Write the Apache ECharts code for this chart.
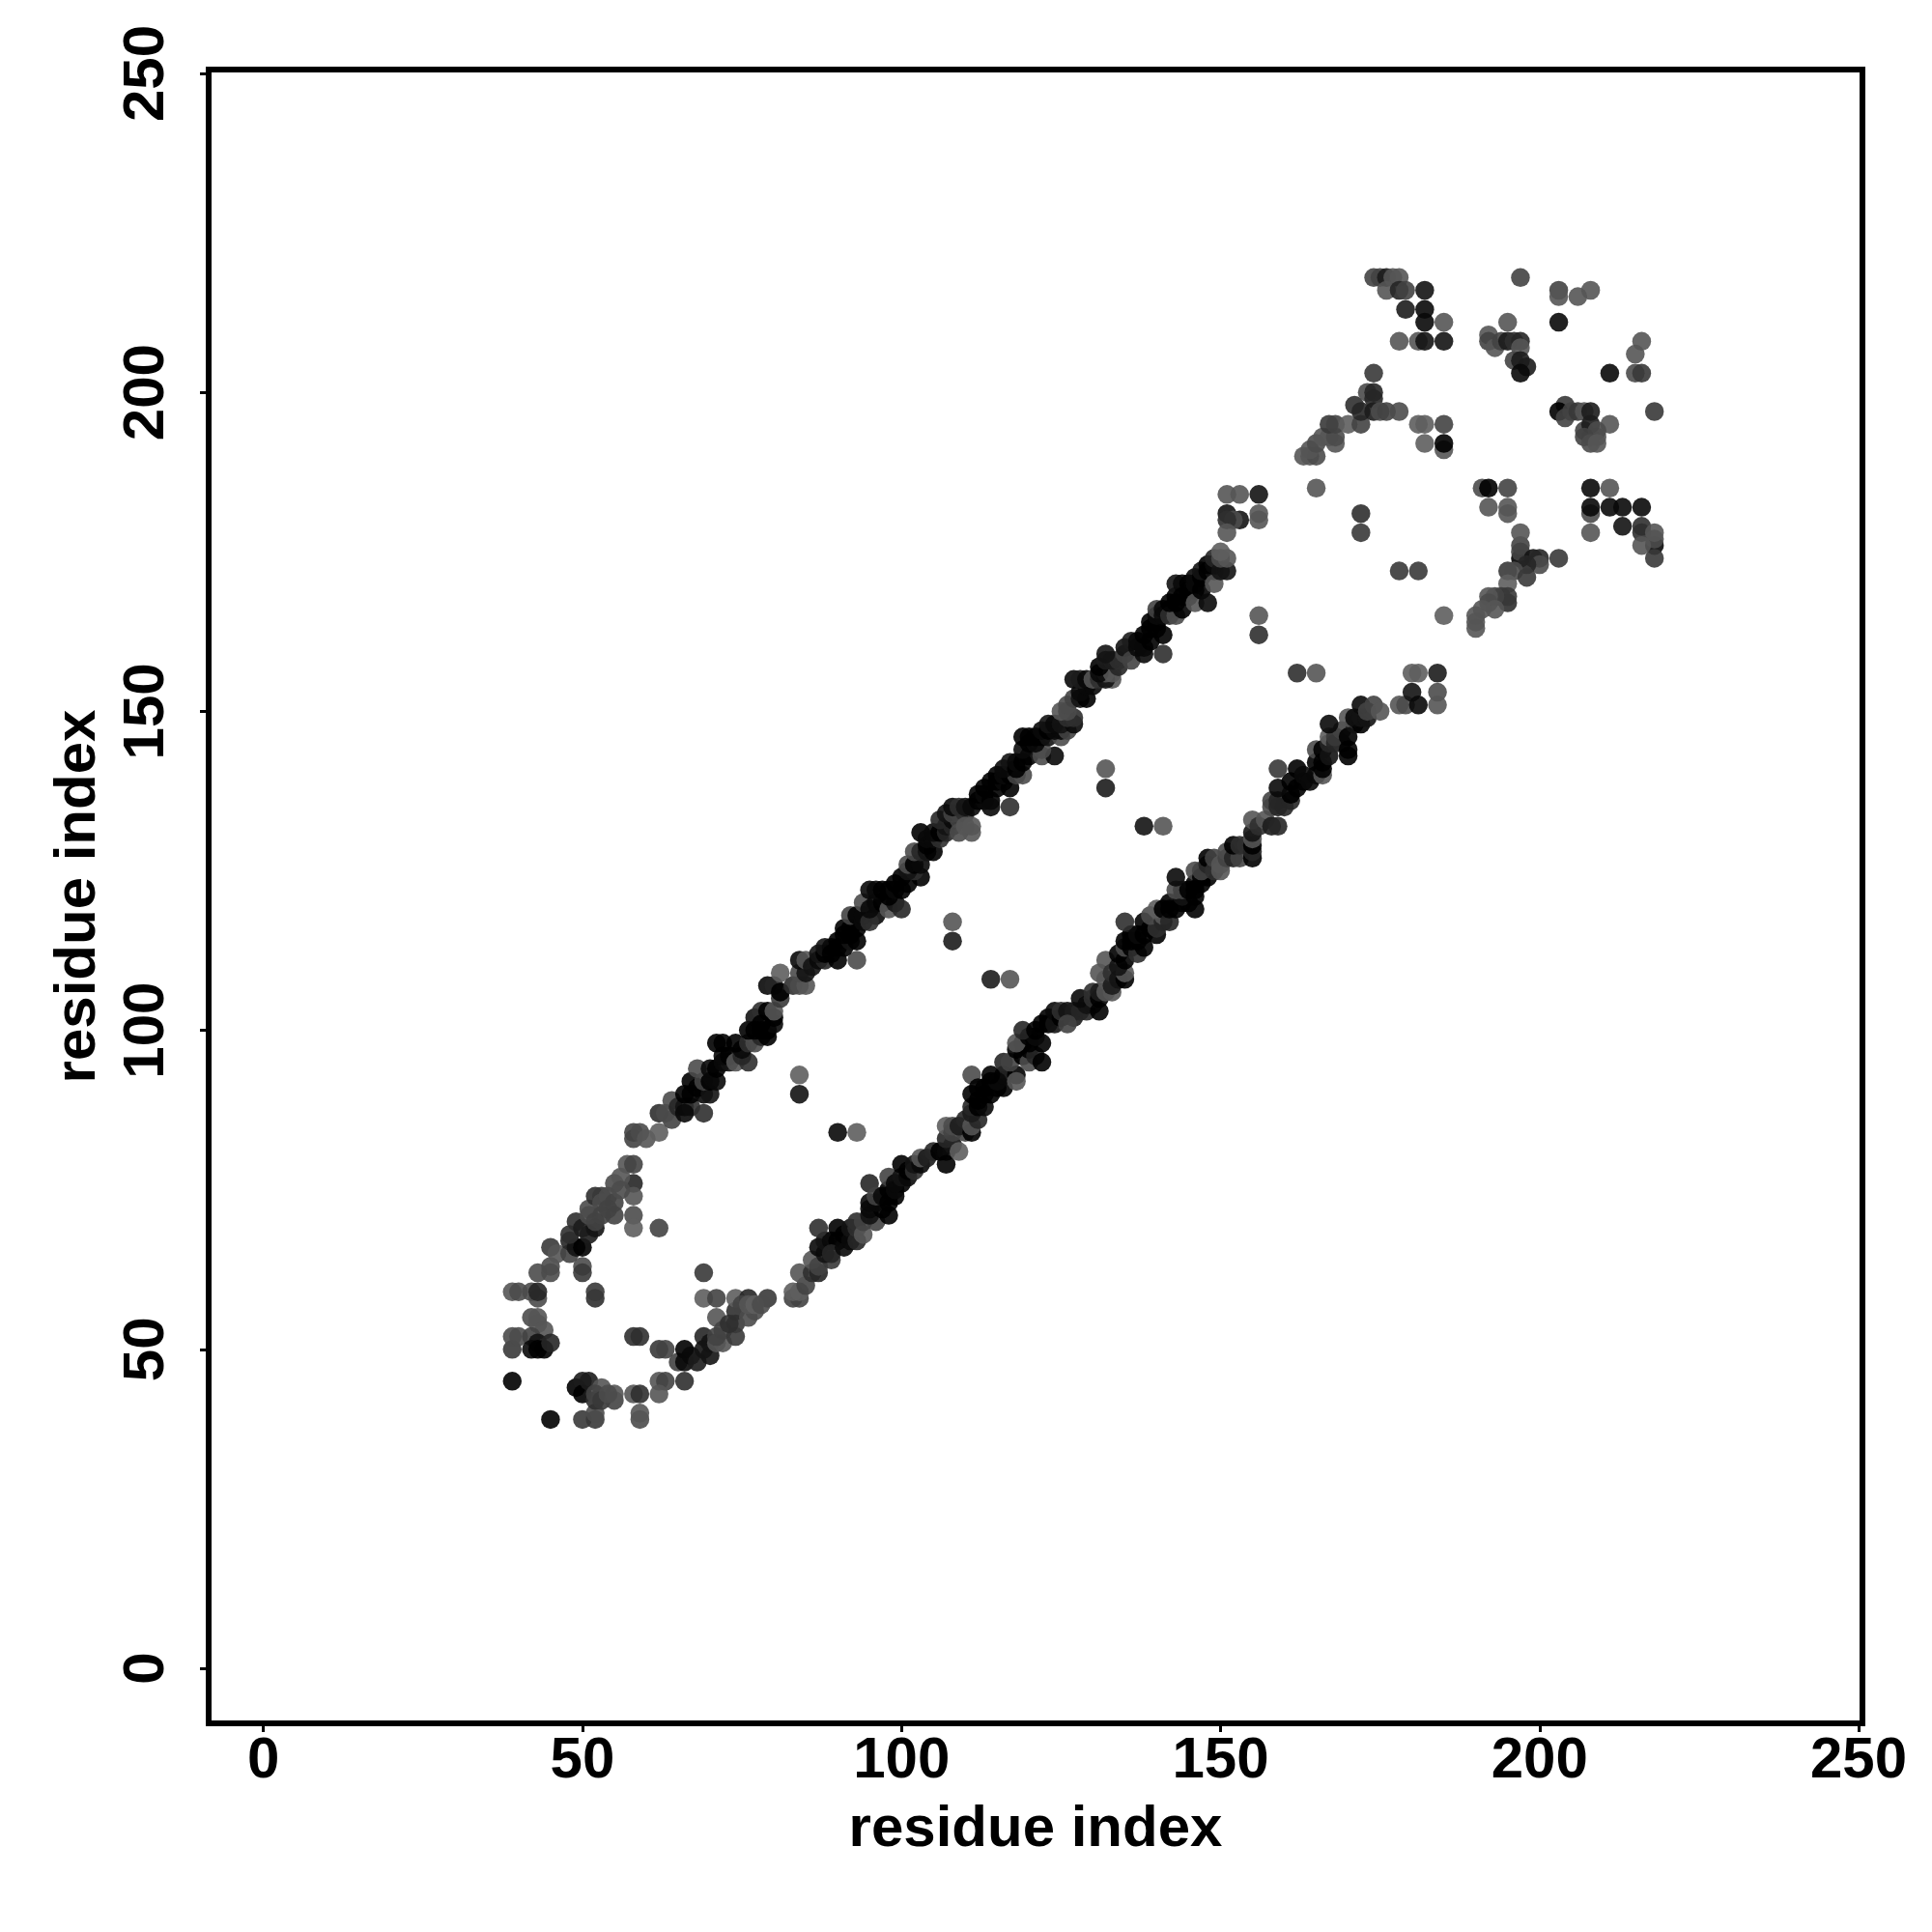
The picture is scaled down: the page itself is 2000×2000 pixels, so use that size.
<!DOCTYPE html>
<html><head><meta charset="utf-8">
<style>html,body{margin:0;padding:0;background:#fff}#c{width:2000px;height:2000px}</style>
<script src="https://cdn.jsdelivr.net/npm/echarts@6/dist/echarts.min.js"></script>
</head><body><div id="c"></div>
<script>
// each contact: [residue i, residue j, strength 0-10]
const tickValues = [0,50,100,150,200,250];
const axisTitle = "residue index";
const nTerminal = [[39,45,10],[45,39,10],[39,50,4],[39,52,2],[40,52,2],[39,59,1],[40,59,2],[42,59,2],[43,58,2],[43,59,6],[43,62,2],[42,55,2],[43,55,1],[43,54,1],[44,53,1],[42,52,3],[43,51,8],[42,50,9],[43,50,10],[44,50,10],[45,51,6],[50,63,2],[50,62,4],[52,58,5],[52,59,4],[58,52,5],[59,52,5],[62,50,4],[63,50,3],[58,43,1],[59,43,5],[59,39,2],[59,40,1],[49,44,10],[50,45,7],[50,43,10],[51,45,7],[50,39,4],[52,39,4],[52,40,2],[52,42,5],[53,44,1],[52,43,3],[53,42,4],[55,42,3],[55,43,1],[54,43,2],[58,76,6],[58,74,1],[58,71,2],[58,69,0],[62,69,3],[69,62,4],[69,58,0],[71,58,3]];
const upperBand = [[45,63,2],[45,62,2],[45,66,4],[46,65,1],[48,65,3],[48,67,6],[49,66,8],[50,66,10],[48,68,5],[49,70,5],[50,69,7],[51,68,7],[52,69,8],[51,71,2],[51,72,2],[52,70,3],[52,74,5],[53,74,4],[53,73,2],[54,74,2],[53,71,3],[55,71,3],[54,72,3],[55,73,3],[55,76,2],[56,77,1],[56,75,2],[57,79,1],[58,79,3],[58,83,3],[58,84,3],[59,84,2],[60,83,1],[62,84,0],[64,86,3],[62,87,5],[63,87,2],[64,89,2],[65,88,6],[66,88,8],[67,88,5],[66,87,9],[69,87,5],[66,90,10],[67,90,10],[69,90,9],[68,91,10],[70,90,8],[67,92,10],[69,92,3],[70,92,10],[71,92,9],[68,94,2],[70,94,9],[71,94,10],[72,95,9],[73,95,8],[72,96,9],[73,96,10],[71,98,10],[72,98,10],[74,95,1],[76,95,5],[75,96,6],[75,97,9],[74,98,10],[76,98,5],[77,98,2],[78,99,6],[79,99,10],[76,100,10],[78,100,10],[79,100,10],[80,101,9],[80,102,10],[77,102,8],[78,103,5],[79,103,10],[80,103,1],[78,101,10],[77,100,10],[81,105,4],[79,107,9],[80,107,6],[81,106,10],[81,109,0],[83,107,5],[84,107,2],[85,107,1],[84,109,2],[85,109,8],[84,111,9],[85,111,1],[86,110,8],[87,111,9],[88,111,6],[87,112,8],[88,112,10],[88,113,8],[89,113,9],[89,112,10],[90,111,10],[93,111,2],[90,113,10],[90,114,10],[91,113,10],[92,114,8],[93,114,10],[91,115,10],[92,115,10],[91,116,10],[92,116,10],[93,116,10],[92,118,3],[93,118,10],[94,117,9],[94,118,9],[96,118,9],[95,117,5],[94,120,2],[95,119,9],[96,120,9],[97,120,10],[98,119,1],[99,120,8],[100,119,6],[95,122,9],[96,122,9],[97,122,10],[98,121,10],[98,122,10],[99,122,9],[100,122,10],[99,123,10],[100,124,10],[101,123,10],[103,124,10],[102,125,5],[101,125,8],[101,126,2],[102,126,10],[103,126,9],[102,128,2],[103,128,6],[104,128,8],[105,128,10],[104,129,10],[103,131,10],[104,130,9],[105,130,9],[106,130,5],[105,131,9],[106,131,10],[107,131,6],[107,132,8],[108,132,6],[106,133,6],[108,133,9],[109,133,3],[107,134,8],[108,134,3],[109,134,3],[110,134,5],[108,135,9],[109,135,5],[109,131,2],[111,131,1],[110,132,1],[111,132,1],[110,135,8],[111,135,9],[112,136,10],[113,136,9],[112,137,10],[113,137,9],[113,138,10],[114,136,10],[114,135,9],[117,135,5],[115,138,10],[114,139,10],[115,139,10],[116,139,9],[117,138,10],[115,140,10],[116,140,9],[117,140,10],[118,140,3],[119,140,2],[116,141,9],[117,142,8],[118,141,10],[118,142,9],[119,142,10],[120,143,10],[122,143,2],[124,143,9],[119,144,9],[122,144,2],[120,145,10],[121,145,9],[119,146,10],[120,146,10],[121,146,10],[122,146,10],[123,146,8],[125,146,2],[122,147,9],[123,147,10],[124,147,9],[125,147,9],[126,147,3],[123,148,8],[124,148,9],[125,148,8],[127,148,9],[126,149,5],[127,149,5],[125,150,1],[126,150,2],[126,151,2],[127,152,3],[128,152,8],[129,152,10],[128,153,9],[129,154,9],[130,154,9],[127,155,9],[128,155,7],[129,155,9],[130,155,1],[131,155,5],[133,155,1],[132,155,8],[132,156,1],[131,156,9],[133,156,1],[131,157,10],[134,157,6],[132,158,7],[133,158,7],[134,158,5],[132,159,8],[135,159,3],[135,160,8],[136,158,3],[136,161,7],[137,160,9],[137,161,9],[138,159,9],[138,160,9],[141,159,5],[138,162,10],[139,161,10],[139,163,10],[140,163,10],[139,164,10],[140,164,10],[141,162,10],[140,165,9],[140,166,3],[141,166,9],[142,166,10],[141,165,9],[142,165,5],[143,165,2],[142,167,10],[143,167,10],[143,168,10],[145,168,9],[145,169,10],[146,169,9],[143,170,8],[144,170,9],[144,168,10],[144,166,10],[145,170,10],[146,170,9],[146,167,1],[146,171,9],[147,171,10],[147,172,8],[147,169,10],[148,167,9],[148,172,10],[149,172,8],[148,173,10],[149,173,9],[149,170,1],[149,174,6],[150,172,8],[151,172,8],[150,174,2],[151,174,1],[150,175,0]];
const upperEnd = [[151,184,1],[153,184,1],[156,184,8],[151,181,8],[156,181,1],[156,180,1],[153,180,8],[152,180,2],[151,180,5],[151,178,1],[163,190,1],[164,190,1],[165,190,2],[164,191,1],[165,192,2],[168,192,1],[166,193,1],[167,193,1],[168,193,2],[167,195,4],[168,195,3],[170,195,0],[172,195,3],[171,198,5],[172,197,6],[173,200,2],[174,200,6],[174,199,6],[174,197,7],[175,197,2],[176,197,3],[178,197,2],[174,203,4],[181,195,0],[182,195,0],[185,195,3],[182,192,0],[185,191,1],[185,192,10],[174,218,3],[175,218,3],[176,218,7],[177,218,1],[178,218,1],[176,216,1],[178,216,6],[179,216,3],[182,216,8],[179,213,7],[182,213,9],[182,211,9],[185,211,1],[178,208,1],[181,208,1],[182,208,8],[185,208,8]];
const offBand = [[84,93,0],[84,90,8],[90,84,9],[93,84,0],[108,117,1],[108,114,7],[114,108,7],[117,108,1],[132,141,1],[132,138,7],[138,132,8],[141,132,1],[156,165,1],[156,162,5],[162,156,5],[165,156,1],[172,181,5],[172,178,4],[178,172,4],[181,172,4],[185,165,0],[165,185,1]];
const cTerminal = [[197,218,3],[203,216,3],[203,215,1],[206,215,1],[208,216,1],[203,211,9],[195,211,1],[192,209,1],[192,208,3],[193,207,1],[194,208,3],[195,208,7],[196,208,5],[197,208,6],[197,207,1],[196,205,3],[197,205,7],[198,204,7],[197,203,9],[216,208,1],[215,206,1],[211,203,9],[215,203,2],[216,203,4],[218,197,4],[211,195,1],[204,198,4],[203,197,10],[204,196,3],[205,197,3],[206,197,4],[207,197,1],[208,197,7],[207,194,3],[208,193,3],[209,193,1],[208,195,7],[209,194,2],[207,193,3],[208,192,2],[209,192,1],[191,185,2],[192,185,10],[195,185,3],[192,182,1],[195,181,1],[195,182,1],[208,185,9],[211,185,1],[208,181,2],[208,182,9],[211,182,9],[213,182,9],[216,182,9],[213,179,8],[208,178,1],[216,179,5],[216,178,5],[218,176,9],[218,174,4],[218,177,2],[218,178,1],[216,176,1],[197,174,10],[197,175,3],[197,176,3],[197,178,1],[199,174,8],[200,174,6],[203,174,4],[200,173,2],[198,173,6],[195,172,4],[196,172,2],[198,171,4],[195,170,0],[195,167,5],[195,168,4],[194,168,4],[193,168,3],[192,168,1],[192,167,2],[193,166,1],[191,166,1],[190,165,1],[190,164,1],[190,163,1]];
const lowerBand = [[65,48,3],[66,45,5],[62,45,1],[63,45,3],[62,43,1],[66,50,10],[67,49,9],[66,48,9],[68,48,7],[69,52,6],[70,49,8],[69,50,8],[70,51,8],[71,51,1],[72,51,1],[71,52,3],[71,55,1],[72,53,3],[74,52,4],[74,54,4],[73,54,5],[74,56,5],[74,58,0],[76,58,6],[79,58,4],[75,57,3],[76,55,2],[77,56,2],[76,57,1],[77,57,0],[78,57,2],[83,58,3],[84,58,3],[83,59,0],[84,59,0],[85,60,3],[84,62,1],[86,62,5],[87,62,6],[86,64,1],[87,63,3],[89,64,4],[88,65,8],[87,66,9],[88,67,8],[89,67,9],[87,69,5],[90,69,10],[90,67,10],[89,65,6],[91,66,9],[91,68,10],[92,67,9],[92,69,8],[93,67,6],[93,69,5],[93,70,5],[94,68,1],[95,76,6],[94,70,3],[96,70,3],[95,71,8],[95,72,9],[98,71,10],[97,72,10],[98,74,10],[96,73,9],[95,73,9],[96,74,3],[97,74,9],[98,73,10],[98,75,10],[98,77,3],[99,74,10],[99,75,9],[100,76,10],[99,76,9],[100,77,8],[100,79,10],[101,77,9],[101,78,10],[102,78,5],[102,79,8],[103,79,9],[103,80,1],[104,80,7],[105,81,6],[106,81,10],[107,81,9],[107,79,10],[108,82,8],[107,83,6],[109,81,0],[107,85,0],[108,84,3],[110,84,3],[108,85,2],[109,85,7],[110,86,6],[111,84,10],[111,85,1],[112,86,6],[111,87,7],[111,88,6],[112,88,10],[113,88,9],[112,89,10],[111,90,10],[113,90,10],[114,90,10],[111,93,2],[112,91,10],[113,91,10],[115,91,10],[116,91,10],[114,92,10],[115,92,9],[116,93,9],[114,93,10],[118,93,10],[118,92,1],[116,95,6],[117,95,3],[118,97,10],[119,96,10],[120,95,2],[120,97,10],[121,96,6],[122,95,10],[122,98,10],[119,98,10],[120,98,10],[118,98,1],[120,99,10],[121,99,9],[119,100,6],[121,100,10],[122,101,10],[123,101,10],[123,102,10],[124,101,8],[124,103,9],[125,102,10],[125,103,5],[126,103,8],[127,102,7],[127,103,7],[128,103,6],[129,103,6],[129,104,8],[130,104,8],[126,101,3],[128,105,9],[130,105,5],[130,106,5],[131,103,10],[131,105,10],[131,106,7],[131,109,1],[132,108,1],[132,106,1],[132,111,1],[133,106,1],[133,107,7],[133,109,5],[134,108,8],[135,108,10],[135,109,1],[134,110,8],[135,111,10],[134,112,10],[135,113,2],[136,113,10],[137,112,5],[138,113,10],[135,114,10],[136,114,10],[137,114,10],[136,115,10],[137,115,9],[138,115,10],[135,117,5],[139,116,10],[138,117,10],[140,115,10],[140,116,5],[139,118,2],[141,117,6],[141,118,1],[140,119,0],[141,119,10],[142,117,6],[142,119,10],[142,120,10],[143,119,10],[144,120,10],[145,120,10],[144,121,8],[143,122,2],[144,122,3],[145,122,10],[143,124,9],[146,119,10],[146,121,10],[146,122,10],[146,123,10],[147,123,10],[146,125,2],[147,124,10],[148,124,10],[147,125,3],[148,126,6],[148,127,10],[149,125,5],[149,127,3],[150,125,1],[150,126,1],[151,127,3],[151,128,2],[152,127,6],[153,127,3],[152,129,10],[153,129,5],[154,129,5],[155,127,10],[155,128,6],[155,129,10],[155,130,1],[155,131,8],[155,133,1],[156,132,5],[157,133,1],[158,132,7],[159,132,6],[158,135,2],[158,136,3],[159,135,6],[159,136,6],[160,135,6],[161,136,6],[161,137,10],[159,138,9],[161,139,10],[162,138,10],[163,139,10],[162,141,10],[159,141,4],[163,140,9],[164,139,9],[165,140,9],[165,142,10],[165,144,2],[166,140,1],[166,141,10],[166,142,10],[166,144,10],[167,143,8],[167,145,6],[167,146,0],[168,145,6],[169,145,5],[168,146,4],[169,147,3],[170,143,10],[170,144,10],[170,146,10],[167,148,9],[171,148,8],[172,148,10],[170,149,1],[171,149,9],[172,149,8],[173,149,8],[172,151,9],[173,150,3],[174,151,3],[175,150,1],[178,151,1],[179,151,2],[180,153,8],[180,156,0],[181,156,0],[181,151,9],[184,156,7],[184,153,2],[184,151,1]];
const contacts = [].concat(nTerminal, upperBand, upperEnd, offBand, cTerminal, lowerBand);

const chart = echarts.init(document.getElementById('c'), null, {renderer:'canvas'});
const labelFont = {fontFamily:'Liberation Sans', fontWeight:'bold', color:'#000'};
chart.setOption({
  animation:false,
  backgroundColor:'#fff',
  grid:{left:216,right:72,top:72,bottom:216,show:true,borderColor:'#000',borderWidth:6,backgroundColor:'transparent'},
  xAxis:{type:'value',min:-8.58,max:250.6,
    axisLine:{show:false,onZero:false},splitLine:{show:false},
    axisTick:{show:true,length:9,customValues:tickValues,lineStyle:{color:'#000',width:3}},
    axisLabel:Object.assign({show:true,fontSize:60,margin:9,customValues:tickValues,hideOverlap:false,showMinLabel:true,showMaxLabel:true},labelFont),
    name:axisTitle,nameLocation:'middle',nameGap:80,
    nameTextStyle:Object.assign({fontSize:60},labelFont)},
  yAxis:{type:'value',min:-8.63,max:250.6,
    axisLine:{show:false,onZero:false},splitLine:{show:false},
    axisTick:{show:true,length:9,customValues:tickValues,lineStyle:{color:'#000',width:3}},
    axisLabel:Object.assign({show:true,fontSize:60,rotate:90,margin:34,customValues:tickValues,hideOverlap:false,showMinLabel:true,showMaxLabel:true},labelFont),
    name:axisTitle,nameLocation:'middle',nameGap:105,nameRotate:90,
    nameTextStyle:Object.assign({fontSize:60},labelFont)},
  visualMap:{show:false,type:'continuous',min:0,max:10,dimension:2,seriesIndex:0,inRange:{color:['#5e5e5e','#000000']}},
  series:[{type:'scatter',symbol:'circle',symbolSize:19.5,data:contacts,itemStyle:{opacity:0.9},clip:false,silent:true}]
});
</script></body></html>
